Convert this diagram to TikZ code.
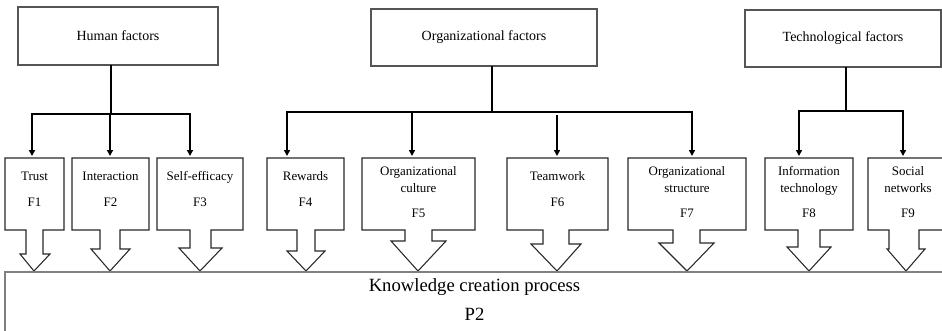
\documentclass[tikz,border=0pt]{standalone}
\usepackage{fontspec}
\setmainfont{Liberation Serif}
\usepackage{tikz}
\usetikzlibrary{arrows.meta, positioning}
\definecolor{boxgray}{RGB}{85,85,85}
\definecolor{basegray}{RGB}{128,128,128}
\definecolor{outline}{RGB}{40,40,40}
\newcommand{\unitpx}{0.75pt}
\tikzset{
  group/.style={rectangle, draw=boxgray, line width=0.8pt, outer sep=0pt,
    font=\fontsize{10.5}{12.6}\selectfont},
  factor/.style={rectangle, draw=none, align=center, outer sep=0pt, inner sep=1pt,
    anchor=north, minimum height=62*\unitpx, font=\fontsize{9.7}{12.5}\selectfont},
  tall/.style={minimum height=68*\unitpx},
  callout/.style={draw=outline, line width=0.8pt},
  link/.style={line width=1.4pt, color=black},
  arrow/.style={-{Triangle[width=4.5pt,length=4.5pt]}, line width=1.4pt, shorten >=1.5pt},
  base/.style={rectangle, draw=basegray, line width=1.5pt, outer sep=0pt,
    minimum width=939*\unitpx, minimum height=90*\unitpx},
  basetext/.style={align=center, inner sep=0pt, font=\fontsize{14}{16.8}\selectfont}
}

\begin{document}
\begin{tikzpicture}[x=0.75pt, y=-0.75pt]
  \useasboundingbox (0,0) rectangle (942,330);
  \clip (0,0) rectangle (942,330);
  % Factor groups
  \node[group, minimum width=200*\unitpx, minimum height=58*\unitpx] (hf) at (118,36) {Human factors};
  \node[group, minimum width=226*\unitpx, minimum height=57*\unitpx] (of) at (484,37.5) {Organizational factors};
  \node[group, minimum width=196*\unitpx, minimum height=57*\unitpx] (tf) at (843,38.5) {Technological factors};
  % Single factors (top edge at 158)
  \node[factor, minimum width=59*\unitpx] (f1) at (34.5,158) {Trust\\[7pt]F1};
  \node[factor, minimum width=77*\unitpx] (f2) at (110.5,158) {Interaction\\[7pt]F2};
  \node[factor, minimum width=86*\unitpx] (f3) at (200,158) {Self-efficacy\\[7pt]F3};
  \node[factor, minimum width=77*\unitpx] (f4) at (305.5,158) {Rewards\\[7pt]F4};
  \node[factor, tall, minimum width=113*\unitpx] (f5) at (418.5,158) {Organizational\\culture\\[6pt]F5};
  \node[factor, minimum width=101*\unitpx] (f6) at (557.5,158) {Teamwork\\[7pt]F6};
  \node[factor, tall, minimum width=118*\unitpx] (f7) at (687,158) {Organizational\\structure\\[6pt]F7};
  \node[factor, tall, minimum width=88*\unitpx] (f8) at (809,158) {Information\\technology\\[6pt]F8};
  \node[factor, tall, minimum width=80*\unitpx] (f9) at (908,158) {Social\\networks\\[6pt]F9};
  % Down arrow callouts around the factors (box bottom at 230)
  \foreach \n/\sl/\sr/\hl/\hr/\hy/\tx in {f1/26/43/20/50/254/34, f2/100/120/91/130/249/110,
      f3/190/211/179/222/248/200, f4/297/315/287/325/251/306, f5/405/432/391/446/241/418,
      f6/543/569/531/581/244/557, f7/673/700/659/714/243/687, f8/798/820/787/831/247/809,
      f9/889/919/887/925/249/906} {
    \draw[callout] (\n.north west) -- (\n.north east) -- (\n.north east |- 0,230)
      -- (\sr,230) -- (\sr,\hy) -- (\hr,\hy) -- (\tx,271) -- (\hl,\hy)
      -- (\sl,\hy) -- (\sl,230) -- (\n.north west |- 0,230) -- cycle;
  }
  % Tree connectors
  \draw[link] (111,0 |- hf.south) -- (111,114) coordinate (hbar);
  \foreach \t/\x in {f1/32, f2/110, f3/190}
    \draw[arrow] (hbar) -| (\x,0 |- \t.north);
  \draw[link] (492,0 |- of.south) -- (492,112) coordinate (obar);
  \foreach \t/\x in {f4/287, f5/412, f7/692}
    \draw[arrow] (obar) -| (\x,0 |- \t.north);
  \draw[arrow] (557,115) -- (557,0 |- f6.north);
  \draw[link] (846,0 |- tf.south) -- (846,111) coordinate (tbar);
  \foreach \t/\x in {f8/799, f9/903}
    \draw[arrow] (tbar) -| (\x,0 |- \t.north);
  % Process
  \node[base, anchor=north west] (kcp) at (5,272) {};
  \node[basetext, below=4.5pt of kcp.north] (kcptext) {Knowledge creation process\\[5.5pt]P2};
\end{tikzpicture}
\end{document}
